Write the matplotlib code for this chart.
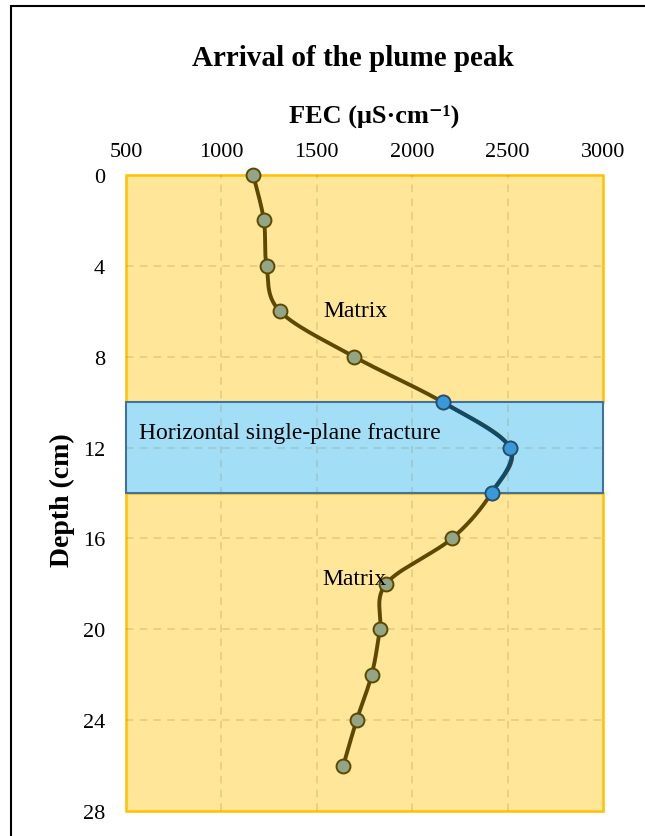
import numpy as np
import matplotlib.pyplot as plt
from matplotlib.patches import Rectangle

plt.rcParams['font.family'] = ['Liberation Serif', 'DejaVu Serif']

# data
depth = [0, 2, 4, 6, 8, 10, 12, 14, 16, 18, 20, 22, 24, 26]
fec = [1167, 1223, 1237, 1307, 1696, 2160, 2513, 2416, 2209, 1863, 1831, 1788, 1709, 1639]
frac_depth = [10, 12, 14]
frac_fec = [2160, 2513, 2416]

x_ticks = [500, 1000, 1500, 2000, 2500, 3000]
y_ticks = [0, 4, 8, 12, 16, 20, 24, 28]
matrix_bands = [(0, 10), (14, 28)]
fracture_band = (10, 14)


def smooth(xs, ys, n=30, sx=0.19, sy=22.7):
    # excel-like smoothed line (uniform catmull-rom), done in pixel-ish units
    p = np.column_stack([np.asarray(xs, float) * sx, np.asarray(ys, float) * sy])
    out = []
    for i in range(len(p) - 1):
        p0 = p[i - 1] if i > 0 else p[i]
        p1, p2 = p[i], p[i + 1]
        p3 = p[i + 2] if i + 2 < len(p) else p[i + 1]
        t = np.linspace(0, 1, n)[:, None]
        c = 0.5 * (2 * p1 + (-p0 + p2) * t + (2 * p0 - 5 * p1 + 4 * p2 - p3) * t ** 2
                   + (-p0 + 3 * p1 - 3 * p2 + p3) * t ** 3)
        out.append(c)
    c = np.vstack(out)
    return c[:, 0] / sx, c[:, 1] / sy


fig = plt.figure(figsize=(6.45, 8.37), dpi=100)
ax = fig.add_axes([0.1953, 0.0299, 0.7395, 0.7598])

for a, b in matrix_bands:
    ax.add_patch(Rectangle((500, a), 2500, b - a, facecolor='#FFE699',
                           edgecolor='#FFC000', lw=1.8, zorder=0, clip_on=False))
ax.add_patch(Rectangle((500, fracture_band[0]), 2500, fracture_band[1] - fracture_band[0],
                       facecolor='#A2DFF7', edgecolor='#41719C', lw=1.5, zorder=0.5,
                       clip_on=False))

for xv in x_ticks[1:-1]:
    ax.axvline(xv, color='#8C7A3C', alpha=0.25, ls=(0, (5, 4)), lw=1.1, zorder=1)
for yv in y_ticks[1:-1]:
    ax.axhline(yv, color='#8C7A3C', alpha=0.25, ls=(0, (5, 4)), lw=1.1, zorder=1)

sx, sy = smooth(fec, depth)
ax.plot(sx, sy, color='#5C4800', lw=2.8, zorder=3, solid_capstyle='round')
ax.plot(fec, depth, ls='none', marker='o', ms=10, mfc='#93A587', mec='#5C4800',
        mew=1.4, zorder=4, clip_on=False)

fx, fy = smooth(frac_fec, frac_depth)
ax.plot(fx, fy, color='#0F4A6B', lw=2.8, zorder=5, solid_capstyle='round')
ax.plot(frac_fec, frac_depth, ls='none', marker='o', ms=10, mfc='#3A9AD9', mec='#1F4E79',
        mew=1.2, zorder=6, clip_on=False)

ax.text(1705, 5.95, 'Matrix', fontsize=17, ha='center', va='center', zorder=7)
ax.text(1700, 17.75, 'Matrix', fontsize=17, ha='center', va='center', zorder=7)
ax.text(568, 11.35, 'Horizontal single-plane fracture', fontsize=17, ha='left',
        va='center', zorder=7)

ax.set_xlim(500, 3000)
ax.set_ylim(28, 0)
ax.set_xticks(x_ticks)
ax.set_yticks(y_ticks)
ax.xaxis.tick_top()
ax.tick_params(length=0, labelsize=16, pad=10)
ax.tick_params(axis='y', pad=15)
for s in ax.spines.values():
    s.set_visible(False)
ax.set_facecolor('none')

fig.text(374 / 645, 1 - 116 / 837, 'FEC (μS·cm\u207b\u00b9)', fontsize=19, fontweight='bold',
         ha='center', va='center')
fig.text(62 / 645, 1 - 500 / 837, 'Depth (cm)', fontsize=20, fontweight='bold',
         ha='center', va='center', rotation=90)
fig.text(353 / 645, 1 - 58 / 837, 'Arrival of the plume peak', fontsize=21, fontweight='bold',
         ha='center', va='center')

fig.patches.append(Rectangle((11 / 645, -0.1), 1.2, 1.1 - 7 / 837, transform=fig.transFigure,
                             fill=False, edgecolor='black', lw=1.5))

fig.savefig('out.png', dpi=100)
